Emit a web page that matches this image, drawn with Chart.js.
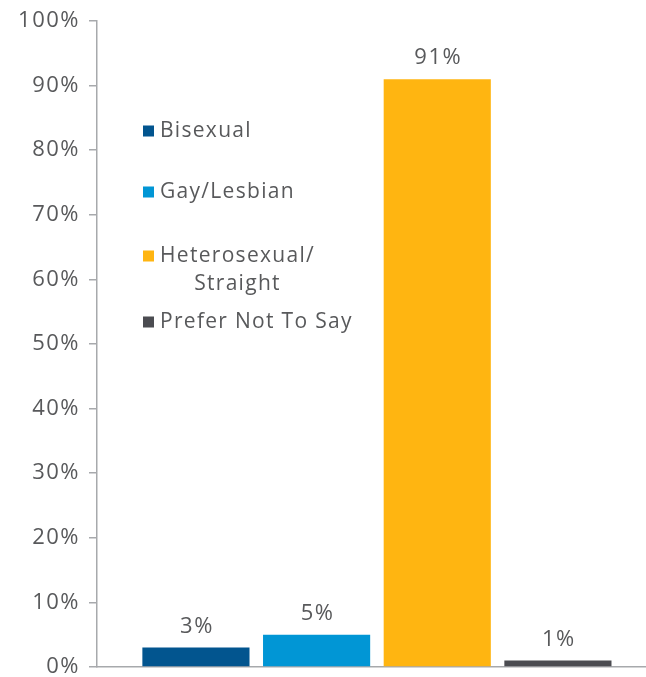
<!DOCTYPE html>
<html>
<head>
<meta charset="utf-8">
<script src="https://cdn.jsdelivr.net/npm/chart.js@4/dist/chart.umd.min.js"></script>
<style>
  html, body { margin: 0; padding: 0; background: #fff; }
  #wrap { width: 646px; height: 677px; }
</style>
</head>
<body>
<div id="wrap"><canvas id="c" width="646" height="677"></canvas></div>
<script>
// Survey responses by sexual orientation (% of respondents)
const categories = ['Bisexual', 'Gay/Lesbian', 'Heterosexual/\nStraight', 'Prefer Not To Say'];
const values = [3, 5, 91, 1];
const colors = ['#02558f', '#0196d5', '#ffb511', '#4b4c51'];
const yTicks = [0, 10, 20, 30, 40, 50, 60, 70, 80, 90, 100];

const TEXT = '#58595b';
const FONT = '"Open Sans", "Noto Sans", sans-serif';
const SPACING = '1.5px';

// wider tracking for every piece of text on the canvas
const tracking = {
  id: 'tracking',
  beforeInit(chart) { chart.ctx.letterSpacing = SPACING; },
  beforeDraw(chart) { chart.ctx.letterSpacing = SPACING; }
};

// value labels above each bar
const valueLabels = {
  id: 'valueLabels',
  afterDatasetsDraw(chart) {
    const ctx = chart.ctx;
    const meta = chart.getDatasetMeta(0);
    ctx.save();
    ctx.letterSpacing = SPACING;
    ctx.fillStyle = TEXT;
    ctx.font = '22px ' + FONT;
    ctx.textAlign = 'center';
    ctx.textBaseline = 'middle';
    meta.data.forEach((bar, i) => {
      ctx.fillText(values[i] + '%', bar.x + 1, bar.y - 21);
    });
    ctx.restore();
  }
};

// legend drawn inside the plot area, stacked on the left
const innerLegend = {
  id: 'innerLegend',
  afterDraw(chart) {
    const ctx = chart.ctx;
    const a = chart.chartArea;
    const rows = [110, 171, 235, 301];
    const boxX = a.left + 46, textX = a.left + 63, box = 11, lineH = 28;
    ctx.save();
    ctx.letterSpacing = '1.3px';
    ctx.font = '21px ' + FONT;
    ctx.textBaseline = 'middle';
    categories.forEach((label, i) => {
      const y = a.top + rows[i];
      ctx.fillStyle = colors[i];
      ctx.fillRect(boxX, y - box / 2, box, box);
      ctx.fillStyle = TEXT;
      const lines = label.split('\n');
      ctx.textAlign = 'left';
      ctx.fillText(lines[0], textX, y);
      if (lines.length > 1) {
        const w = ctx.measureText(lines[0]).width;
        ctx.textAlign = 'center';
        lines.slice(1).forEach((ln, k) => ctx.fillText(ln, textX + w / 2, y + lineH * (k + 1)));
      }
    });
    ctx.restore();
  }
};

new Chart(document.getElementById('c'), {
  type: 'bar',
  data: {
    datasets: [{
      data: values.map((v, i) => ({ x: i, y: v })),
      backgroundColor: colors,
      borderWidth: 0,
      categoryPercentage: 1,
      barPercentage: 0.888
    }]
  },
  options: {
    responsive: false,
    animation: false,
    layout: { padding: { top: 21, right: 0, bottom: 2, left: 0 } },
    plugins: { legend: { display: false }, tooltip: { enabled: false } },
    scales: {
      x: {
        type: 'linear',
        offset: false,
        min: -0.82,
        max: 3.73,
        afterBuildTicks(scale) { scale.ticks = values.map((v, i) => ({ value: i })); },
        grid: { display: false },
        ticks: { display: false },
        border: { display: true, color: '#a7a9ac', width: 1.5 }
      },
      y: {
        min: 0,
        max: 100,
        afterBuildTicks(scale) { scale.ticks = yTicks.map(v => ({ value: v })); },
        afterFit(scale) {
          scale.width = 97;
          scale.paddingTop = 0;
          scale.paddingBottom = 0;
        },
        grid: { drawOnChartArea: false, drawTicks: true, tickLength: 8, color: '#a7a9ac', lineWidth: 1.5 },
        border: { display: true, color: '#a7a9ac', width: 1.5 },
        ticks: {
          color: TEXT,
          padding: 9,
          font: { family: FONT, size: 22 },
          callback: v => v + '%'
        }
      }
    }
  },
  plugins: [tracking, valueLabels, innerLegend]
});
</script>
</body>
</html>
